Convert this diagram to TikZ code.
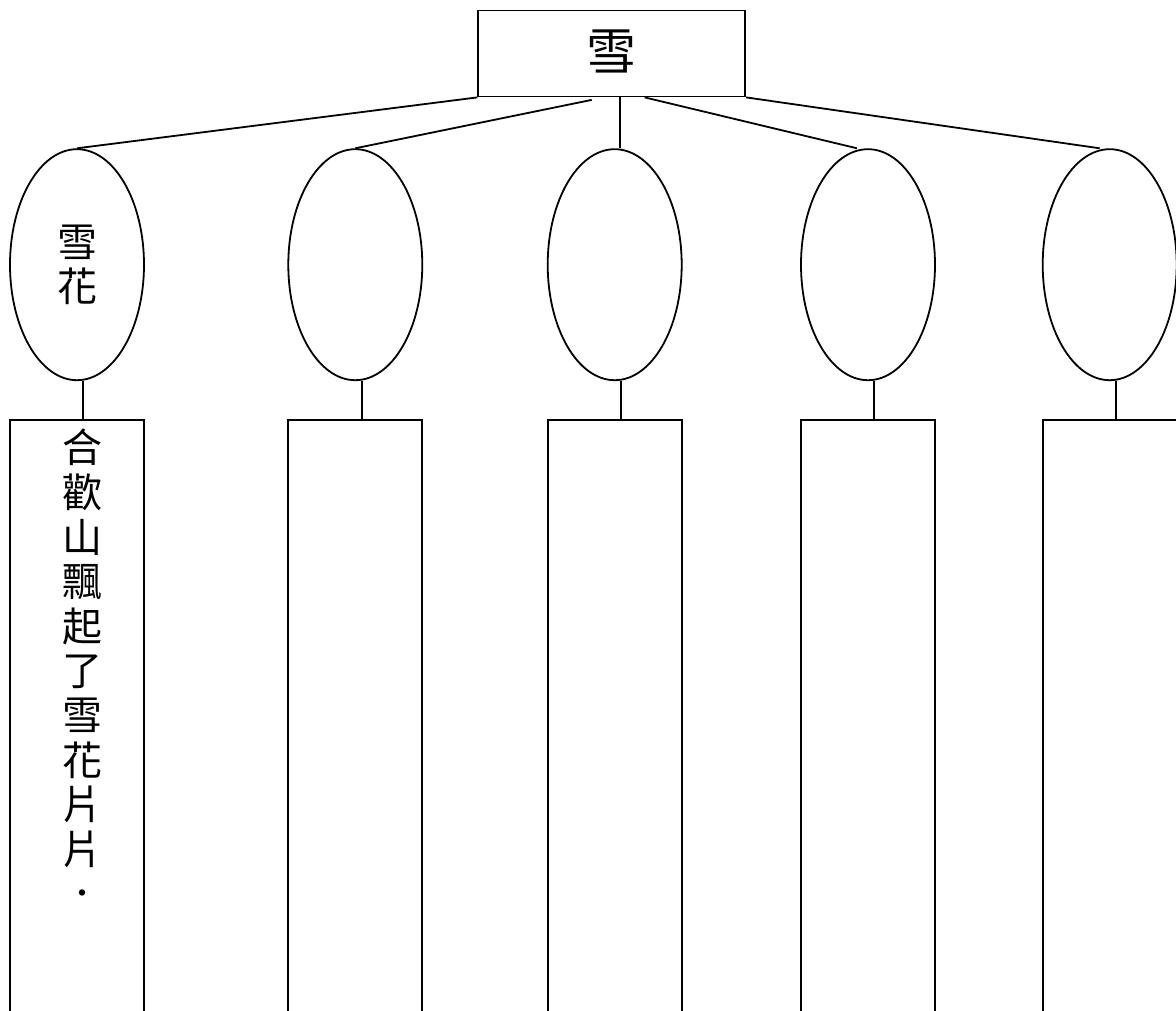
\documentclass[tikz,border=0pt]{standalone}
\usepackage{fontspec}
\newfontfamily\cjk{Noto Sans CJK TC}
\usepackage{tikz}
\usetikzlibrary{positioning,calc,shapes.geometric}

\begin{document}
\begin{tikzpicture}[x=1pt, y=-1pt, line width=1.8pt,
    topbox/.style={draw, minimum width=267pt, minimum height=86pt, inner sep=0pt,
                   font=\cjk\fontsize{50}{60}\selectfont},
    oval/.style={draw, ellipse, minimum width=134pt, minimum height=231pt, inner sep=0pt,
                 align=center, font=\cjk\fontsize{40}{44.5}\selectfont},
    panel/.style={draw, rectangle, minimum width=134pt, minimum height=640pt,
                  inner sep=0pt, anchor=north},
    vtext/.style={align=center, inner sep=0pt, anchor=north,
                  font=\cjk\fontsize{40}{44.6}\selectfont}]
\useasboundingbox (0,0) rectangle (1176,1011);
\clip (0,0) rectangle (1176,1011);
\fill[white] (0,0) rectangle (1176,1011);

% title
\node[topbox] (top) at (611.7,53.5) {\raisebox{6pt}{雪}};

% ovals and panels, one column each
\node[oval] (e1) at (77,264.7) {雪\\花};
\foreach \i/\x in {2/355.3,3/614.7,4/868,5/1109.7}
  \node[oval] (e\i) at (\x,264.7) {};
\foreach \i/\x in {1/77,2/355.3,3/614.7,4/868,5/1109.7}
  \node[panel] (r\i) at (\x,419.3) {};

% text of first panel
\node[vtext] (t1) at ([xshift=5pt,yshift=-9pt]r1.north)
   {合\\歡\\山\\飄\\起\\了\\雪\\花\\片\\片\\．};

% links from the title
\draw (top.south west) -- (e1.north);
\draw ([xshift=-20pt,yshift=-2.5pt]top.south) -- (e2.north);
\draw ([xshift=8pt]top.south) -- ([xshift=8pt]top.south |- e3.north);
\draw ([xshift=33pt]top.south) -- ([xshift=-11pt]e4.north);
\draw (top.south east) -- ([xshift=-10pt]e5.north);

% oval to panel
\foreach \i in {1,...,5}
  \draw ([xshift=6.3pt]e\i.south) -- ([xshift=6.3pt]r\i.north);
\end{tikzpicture}
\end{document}
